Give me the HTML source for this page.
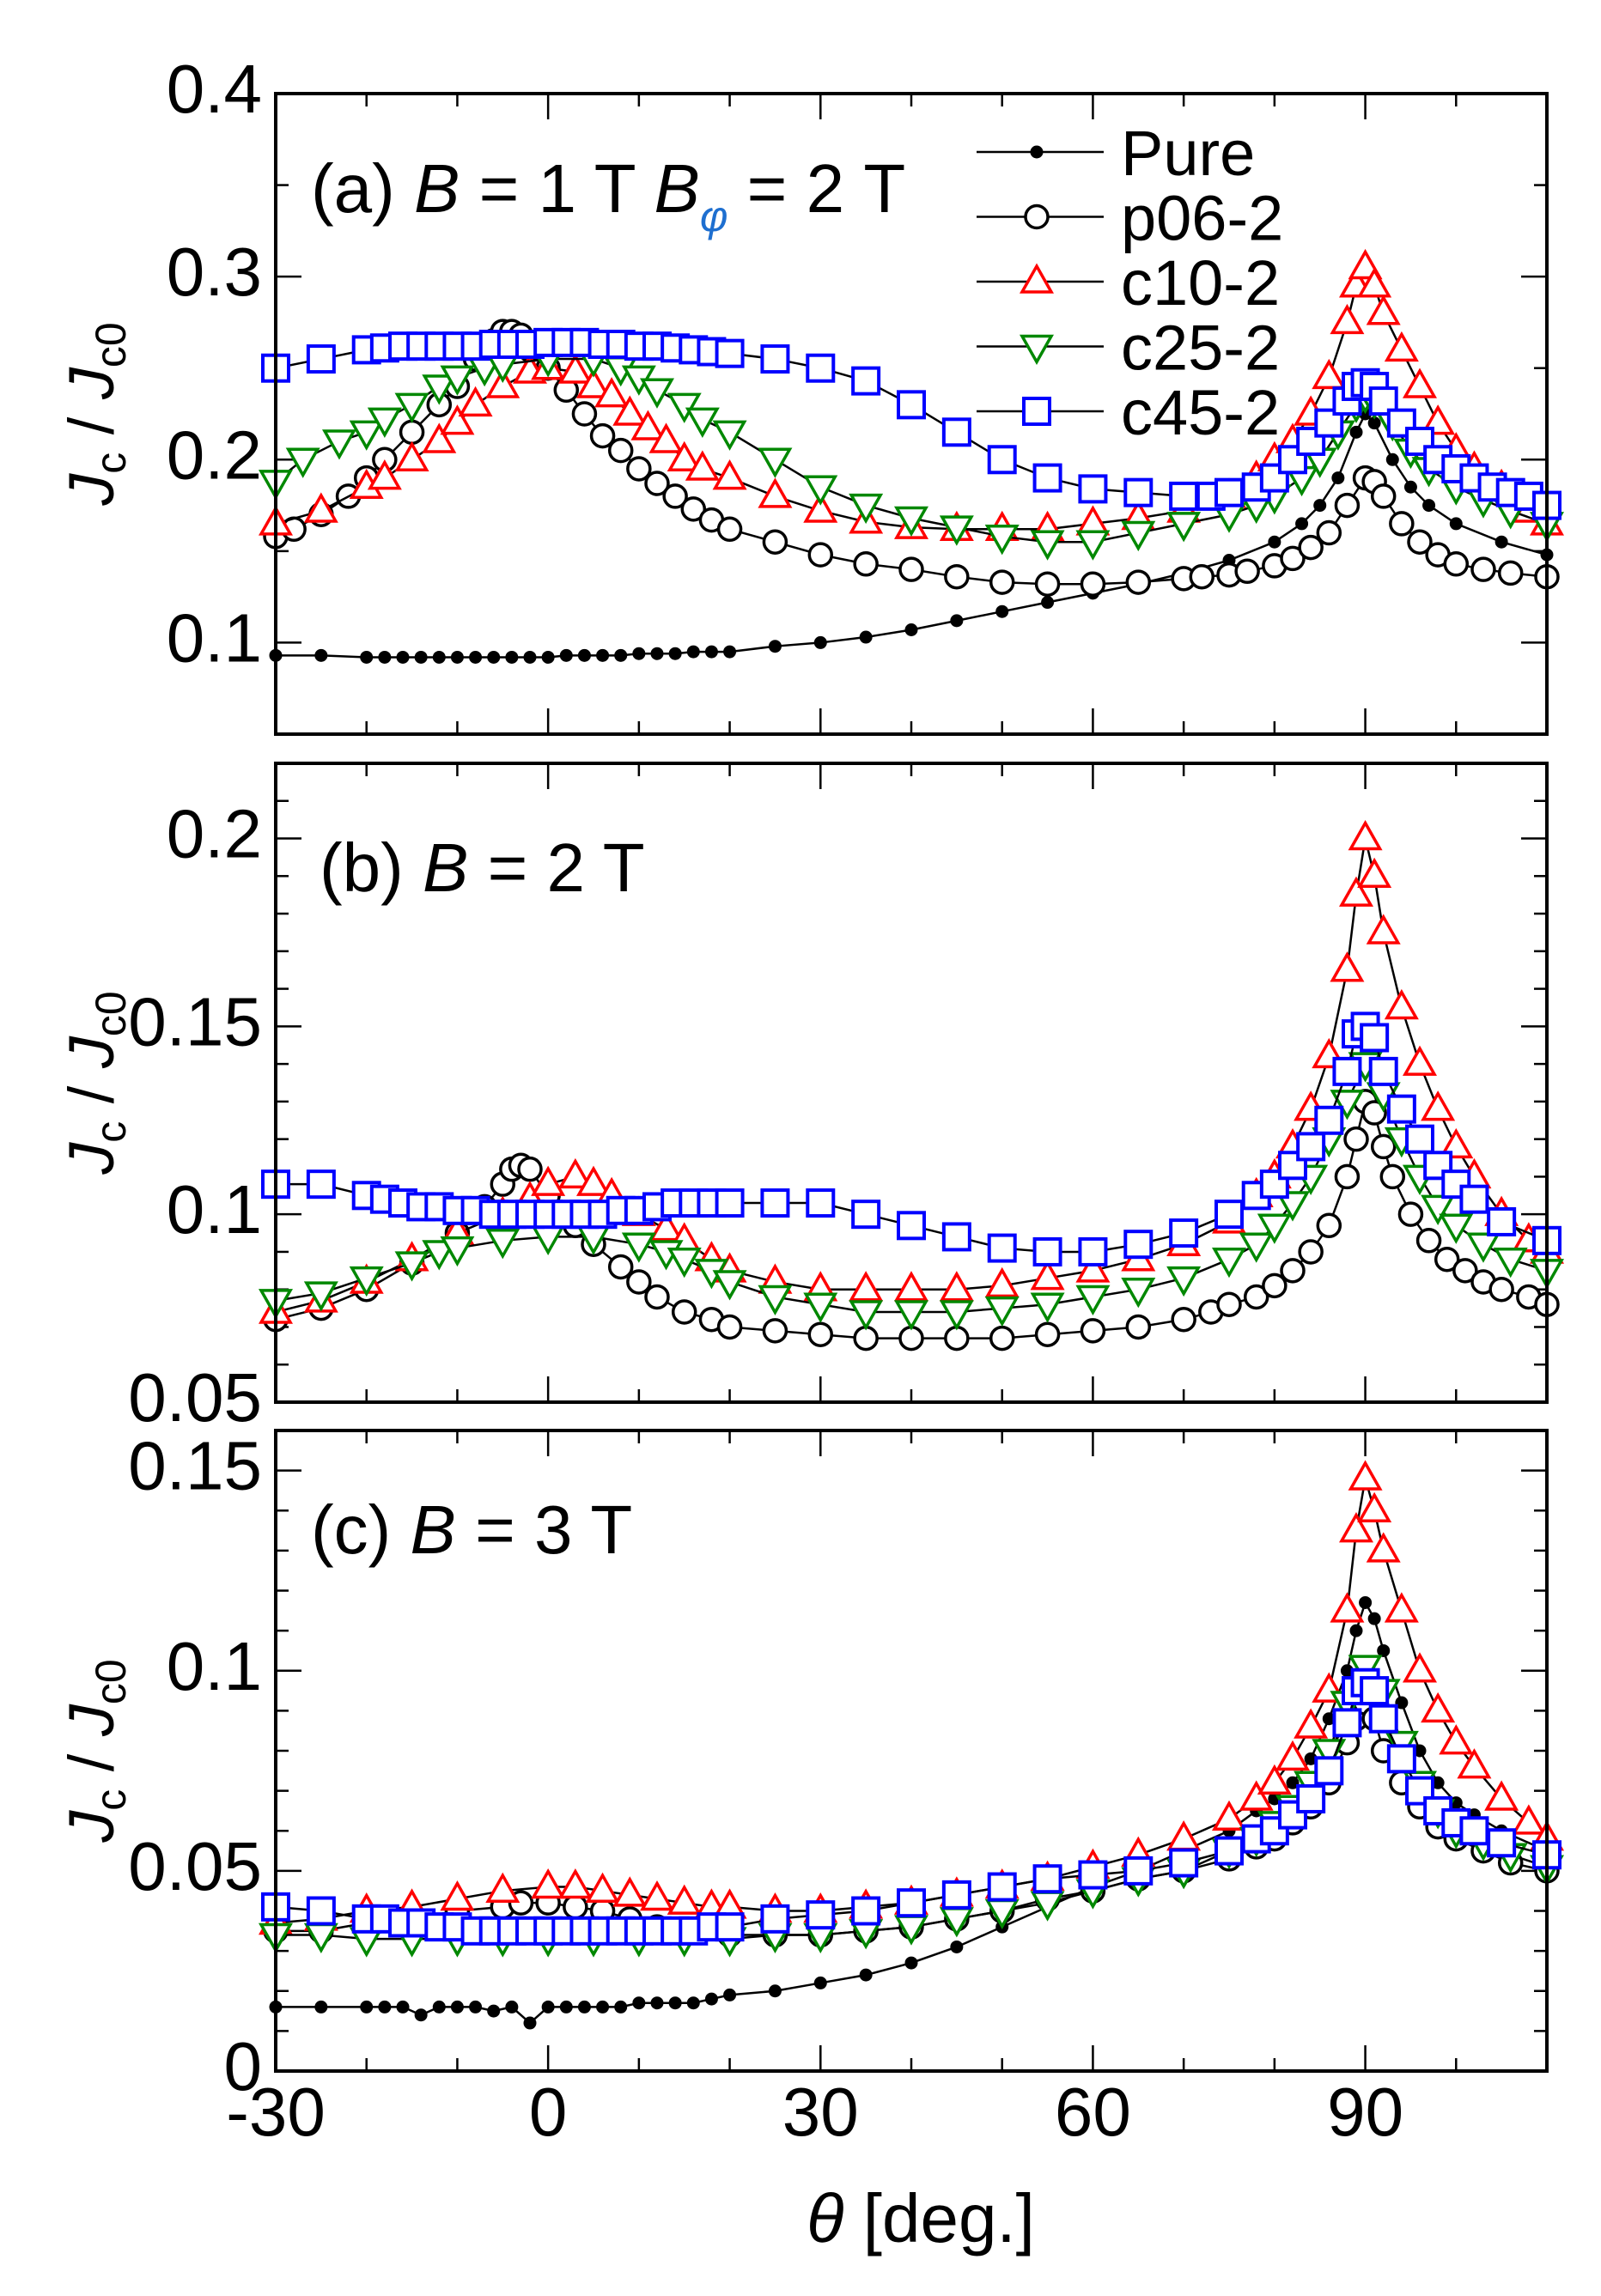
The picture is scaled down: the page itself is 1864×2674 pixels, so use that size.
<!DOCTYPE html>
<html><head><meta charset="utf-8"><style>
html,body{margin:0;padding:0;background:#fff}
svg{display:block}
text{font-family:"Liberation Sans",Arial,sans-serif;fill:#000}
</style></head><body>
<svg id="chart" width="1864" height="2674" viewBox="0 0 1864 2674" xmlns="http://www.w3.org/2000/svg"></svg>
<script>
// ---------- DATA ----------
// Panel (a) B = 1 T
const aPureX=[-30,-25,-20,-18,-16,-14,-12,-10,-8,-6,-4,-2,0,2,4,6,8,10,12,14,16,18,20,25,30,35,40,45,50,55,60,65,70,75,80,83,85,87,89,90,91,93,95,97,100,105,110];
const aPureY=[0.093,0.093,0.092,0.092,0.092,0.092,0.092,0.092,0.092,0.092,0.092,0.092,0.092,0.093,0.093,0.093,0.093,0.094,0.094,0.094,0.095,0.095,0.095,0.098,0.1,0.103,0.107,0.112,0.117,0.122,0.127,0.132,0.138,0.145,0.155,0.165,0.175,0.19,0.215,0.225,0.22,0.2,0.185,0.175,0.165,0.155,0.148];
const aP06X=[-30,-28,-25,-22,-20,-18,-15,-12,-10,-8,-6,-5,-4,-3,-2,0,2,4,6,8,10,12,14,16,18,20,25,30,35,40,45,50,55,60,65,70,72,75,77,80,82,84,86,88,90,91,92,94,96,98,100,103,106,110];
const aP06Y=[0.158,0.162,0.17,0.18,0.19,0.2,0.215,0.23,0.24,0.255,0.265,0.27,0.27,0.268,0.26,0.25,0.238,0.225,0.213,0.205,0.195,0.187,0.18,0.173,0.167,0.162,0.155,0.148,0.143,0.14,0.136,0.133,0.132,0.132,0.133,0.135,0.136,0.137,0.139,0.142,0.146,0.152,0.16,0.175,0.19,0.188,0.18,0.165,0.155,0.148,0.143,0.14,0.138,0.136];
const aC10X=[-30,-25,-20,-18,-15,-12,-10,-8,-5,-2,0,3,5,7,9,11,13,15,17,20,25,30,35,40,45,50,55,60,65,70,75,78,80,82,84,86,88,89,90,91,92,94,96,98,100,102,105,108,110];
const aC10Y=[0.165,0.172,0.185,0.19,0.2,0.21,0.22,0.23,0.24,0.248,0.25,0.248,0.24,0.235,0.225,0.217,0.21,0.2,0.195,0.19,0.18,0.172,0.166,0.163,0.162,0.162,0.162,0.165,0.168,0.172,0.18,0.19,0.2,0.21,0.225,0.245,0.275,0.295,0.305,0.295,0.28,0.26,0.24,0.22,0.205,0.195,0.185,0.172,0.165];
const aC25X=[-30,-27,-23,-20,-18,-15,-12,-10,-7,-5,0,5,8,10,12,15,17,20,25,30,35,40,45,50,55,60,65,70,75,78,80,83,85,87,89,90,91,93,95,97,100,103,106,110];
const aC25Y=[0.188,0.2,0.21,0.215,0.222,0.23,0.24,0.245,0.25,0.252,0.255,0.255,0.25,0.245,0.238,0.23,0.222,0.215,0.2,0.185,0.175,0.168,0.163,0.158,0.155,0.155,0.16,0.165,0.17,0.175,0.18,0.19,0.2,0.215,0.23,0.235,0.232,0.22,0.205,0.195,0.185,0.178,0.172,0.165];
const aC45X=[-30,-25,-20,-18,-16,-14,-12,-10,-8,-6,-4,-2,0,2,4,6,8,10,12,14,16,18,20,25,30,35,40,45,50,55,60,65,70,73,75,78,80,82,84,86,88,89,90,91,92,94,96,98,100,102,104,106,108,110];
const aC45Y=[0.25,0.255,0.26,0.261,0.262,0.262,0.262,0.262,0.262,0.263,0.263,0.263,0.264,0.264,0.264,0.263,0.263,0.262,0.262,0.261,0.26,0.259,0.258,0.255,0.25,0.243,0.23,0.215,0.2,0.19,0.184,0.182,0.18,0.18,0.182,0.185,0.19,0.2,0.21,0.22,0.232,0.24,0.242,0.24,0.232,0.22,0.21,0.2,0.195,0.19,0.185,0.182,0.18,0.175];
// Panel (b) B = 2 T
const bP06X=[-30,-25,-20,-15,-10,-7,-5,-4,-3,-2,0,3,5,8,10,12,15,18,20,25,30,35,40,45,50,55,60,65,70,73,75,78,80,82,84,86,88,89,90,91,92,93,95,97,99,101,103,105,108,110];
const bP06Y=[0.072,0.075,0.08,0.087,0.095,0.102,0.108,0.112,0.113,0.112,0.105,0.097,0.092,0.086,0.082,0.078,0.074,0.072,0.07,0.069,0.068,0.067,0.067,0.067,0.067,0.068,0.069,0.07,0.072,0.074,0.076,0.078,0.081,0.085,0.09,0.097,0.11,0.12,0.13,0.127,0.118,0.11,0.1,0.093,0.088,0.085,0.082,0.08,0.078,0.076];
const bC10X=[-30,-25,-20,-15,-10,-5,-2,0,3,5,7,10,13,15,18,20,25,30,35,40,45,50,55,60,65,70,75,78,80,82,84,86,88,89,90,91,92,94,96,98,100,102,105,108,110];
const bC10Y=[0.074,0.077,0.082,0.088,0.095,0.1,0.104,0.108,0.11,0.108,0.105,0.1,0.096,0.093,0.088,0.085,0.082,0.08,0.08,0.08,0.08,0.081,0.083,0.085,0.088,0.092,0.098,0.105,0.11,0.118,0.128,0.142,0.165,0.185,0.2,0.19,0.175,0.155,0.14,0.128,0.118,0.11,0.1,0.093,0.09];
const bC25X=[-30,-25,-20,-15,-12,-10,-5,0,5,10,13,15,18,20,25,30,35,40,45,50,55,60,65,70,75,78,80,82,84,86,88,90,92,94,96,98,100,103,106,110];
const bC25Y=[0.077,0.079,0.083,0.087,0.09,0.091,0.093,0.094,0.094,0.092,0.09,0.088,0.085,0.082,0.078,0.076,0.074,0.074,0.074,0.075,0.076,0.078,0.08,0.083,0.088,0.092,0.097,0.103,0.11,0.12,0.13,0.14,0.132,0.12,0.11,0.102,0.097,0.092,0.088,0.085];
const bC45X=[-30,-25,-20,-18,-16,-14,-12,-10,-8,-6,-4,-2,0,2,4,6,8,10,12,14,16,18,20,25,30,35,40,45,50,55,60,65,70,75,78,80,82,84,86,88,89,90,91,92,94,96,98,100,102,105,110];
const bC45Y=[0.108,0.108,0.105,0.104,0.103,0.102,0.102,0.101,0.101,0.1,0.1,0.1,0.1,0.1,0.1,0.1,0.101,0.101,0.102,0.103,0.103,0.103,0.103,0.103,0.103,0.1,0.097,0.094,0.091,0.09,0.09,0.092,0.095,0.1,0.105,0.108,0.113,0.118,0.125,0.138,0.148,0.15,0.147,0.138,0.128,0.12,0.113,0.108,0.104,0.098,0.093];
// Panel (c) B = 3 T
const cPureX=[-30,-25,-20,-18,-16,-14,-12,-10,-8,-6,-4,-2,0,2,4,6,8,10,12,14,16,18,20,25,30,35,40,45,50,55,60,65,70,75,78,80,82,84,86,88,89,90,91,92,94,96,98,100,102,105,110];
const cPureY=[0.016,0.016,0.016,0.016,0.016,0.014,0.016,0.016,0.016,0.015,0.016,0.012,0.016,0.016,0.016,0.016,0.016,0.017,0.017,0.017,0.017,0.018,0.019,0.02,0.022,0.024,0.027,0.031,0.036,0.041,0.046,0.05,0.055,0.06,0.065,0.068,0.072,0.078,0.088,0.1,0.11,0.117,0.113,0.105,0.092,0.08,0.072,0.067,0.064,0.06,0.055];
const cP06X=[-30,-25,-20,-15,-10,-5,-3,0,3,6,9,12,15,20,25,30,35,40,45,50,55,60,65,70,75,78,80,82,84,86,88,89,90,91,92,94,96,98,100,103,106,110];
const cP06Y=[0.035,0.035,0.037,0.038,0.04,0.041,0.042,0.042,0.041,0.04,0.038,0.036,0.035,0.034,0.034,0.034,0.035,0.036,0.038,0.04,0.043,0.045,0.048,0.05,0.053,0.056,0.058,0.062,0.066,0.072,0.082,0.088,0.092,0.088,0.08,0.072,0.066,0.061,0.058,0.055,0.052,0.05];
const cC10X=[-30,-25,-20,-15,-10,-5,0,3,6,9,12,15,18,20,25,30,35,40,45,50,55,60,65,70,75,78,80,82,84,86,88,89,90,91,92,94,96,98,100,102,105,108,110];
const cC10Y=[0.037,0.038,0.04,0.041,0.043,0.045,0.046,0.046,0.045,0.044,0.043,0.042,0.041,0.041,0.04,0.04,0.041,0.042,0.044,0.046,0.048,0.051,0.054,0.058,0.063,0.068,0.072,0.078,0.086,0.095,0.115,0.135,0.148,0.14,0.13,0.115,0.1,0.09,0.082,0.076,0.068,0.062,0.058];
const cC25X=[-30,-25,-20,-15,-10,-5,0,5,10,15,20,25,30,35,40,45,50,55,60,65,70,75,78,80,82,84,86,88,90,92,94,96,98,100,103,106,110];
const cC25Y=[0.034,0.034,0.033,0.033,0.033,0.033,0.033,0.033,0.033,0.033,0.033,0.034,0.034,0.035,0.036,0.038,0.04,0.042,0.045,0.048,0.05,0.055,0.058,0.062,0.066,0.072,0.08,0.092,0.101,0.095,0.082,0.072,0.065,0.06,0.057,0.054,0.051];
const cC45X=[-30,-25,-20,-18,-16,-14,-12,-10,-8,-6,-4,-2,0,2,4,6,8,10,12,14,16,18,20,25,30,35,40,45,50,55,60,65,70,75,78,80,82,84,86,88,89,90,91,92,94,96,98,100,102,105,110];
const cC45Y=[0.041,0.04,0.038,0.038,0.037,0.037,0.036,0.036,0.035,0.035,0.035,0.035,0.035,0.035,0.035,0.035,0.035,0.035,0.035,0.035,0.035,0.036,0.036,0.038,0.039,0.04,0.042,0.044,0.046,0.048,0.049,0.05,0.052,0.055,0.058,0.06,0.064,0.068,0.075,0.087,0.095,0.097,0.095,0.088,0.078,0.07,0.065,0.062,0.06,0.057,0.054];
const xTicks=[-30,0,30,60,90];
const aYTicks=[0.1,0.2,0.3,0.4];
const bYTicks=[0.05,0.1,0.15,0.2];
const cYTicks=[0,0.05,0.1,0.15];
const legendNames=["Pure","p06-2","c10-2","c25-2","c45-2"];

// ---------- DRAW ----------
const NS="http://www.w3.org/2000/svg";
const svg=document.getElementById('chart');
function mk(tag,attrs,parent){const e=document.createElementNS(NS,tag);for(const k in attrs)e.setAttribute(k,attrs[k]);(parent||svg).appendChild(e);return e;}
const X0=321,X1=1801,XMIN=-30,XMAX=110;
function xs(v){return X0+(v-XMIN)/(XMAX-XMIN)*(X1-X0);}
const panels=[
 {id:'a',top:109,bot:855,ymin:0.05,ymax:0.4,minor:0.05,ticks:aYTicks,labels:["0.1","0.2","0.3","0.4"],
  series:[[aPureX,aPureY,'pure'],[aP06X,aP06Y,'p06'],[aC10X,aC10Y,'c10'],[aC25X,aC25Y,'c25'],[aC45X,aC45Y,'c45']]},
 {id:'b',top:889,bot:1633,ymin:0.05,ymax:0.22,minor:0.01,ticks:bYTicks,labels:["0.05","0.1","0.15","0.2"],
  series:[[bP06X,bP06Y,'p06'],[bC10X,bC10Y,'c10'],[bC25X,bC25Y,'c25'],[bC45X,bC45Y,'c45']]},
 {id:'c',top:1666,bot:2412,ymin:0,ymax:0.16,minor:0.01,ticks:cYTicks,labels:["0","0.05","0.1","0.15"],
  series:[[cPureX,cPureY,'pure'],[cP06X,cP06Y,'p06'],[cC10X,cC10Y,'c10'],[cC25X,cC25Y,'c25'],[cC45X,cC45Y,'c45']]}
];
function marker(g,kind,x,y){
 let e;
 if(kind==='pure'){e=mk('circle',{cx:x,cy:y,r:7.5,fill:'#000'},g);}
 else if(kind==='p06'){e=mk('circle',{cx:x,cy:y,r:13,fill:'#fff',stroke:'#000','stroke-width':3.5},g);}
 else if(kind==='c10'){e=mk('polygon',{points:`${x},${y-18} ${x+17},${y+12} ${x-17},${y+12}`,fill:'#fff',stroke:'#f00','stroke-width':3.5},g);}
 else if(kind==='c25'){e=mk('polygon',{points:`${x},${y+18} ${x+17},${y-12} ${x-17},${y-12}`,fill:'#fff',stroke:'#080','stroke-width':3.5},g);}
 else {e=mk('rect',{x:x-15,y:y-15,width:30,height:30,fill:'#fff',stroke:'#00f','stroke-width':4},g);}
 return e;
}
const nameMap={pure:'pure',p06:'p06-2',c10:'c10-2',c25:'c25-2',c45:'c45-2'};
panels.forEach(p=>{
 const ys=v=>p.bot-(v-p.ymin)/(p.ymax-p.ymin)*(p.bot-p.top);
 const g=mk('g',{});
 
 
 for(let t=-30;t<=110;t+=10){
  const major=(t%30===0);const L=major?30:15;
  mk('line',{x1:xs(t),x2:xs(t),y1:p.bot,y2:p.bot-L,stroke:'#000','stroke-width':2.5},g);
  mk('line',{x1:xs(t),x2:xs(t),y1:p.top,y2:p.top+L,stroke:'#000','stroke-width':2.5},g);
 }
 const n=Math.round((p.ymax-p.ymin)/p.minor);
 for(let i=0;i<=n;i++){
  const v=p.ymin+i*p.minor;const y=ys(v);
  const major=p.ticks.some(t=>Math.abs(t-v)<1e-6);const L=major?30:15;
  mk('line',{x1:X0,x2:X0+L,y1:y,y2:y,stroke:'#000','stroke-width':2.5},g);
  mk('line',{x1:X1,x2:X1-L,y1:y,y2:y,stroke:'#000','stroke-width':2.5},g);
 }
 p.ticks.forEach((t,i)=>{
  const tx=mk('text',{x:305,y:ys(t)+22,'font-size':80,'text-anchor':'end'},g);
  tx.textContent=p.labels[i];
  
  
 });
 const cy=(p.top+p.bot)/2;
 const yt=mk('text',{x:0,y:0,'font-size':74,'text-anchor':'middle',transform:`translate(132,${cy}) rotate(-90)`},g);
 yt.innerHTML='<tspan font-style="italic">J</tspan><tspan font-size="50" dy="14">c</tspan><tspan dy="-14"> / </tspan><tspan font-style="italic">J</tspan><tspan font-size="50" dy="14">c0</tspan>';
 
 
 p.series.forEach(s=>{
  const sg=mk('g',{},g);
  
  
  const pts=s[0].map((x,i)=>xs(x)+','+ys(s[1][i])).join(' ');
  mk('polyline',{points:pts,fill:'none',stroke:'#000','stroke-width':2.5},sg);
  s[0].forEach((x,i)=>{
   const m=marker(sg,s[2],xs(x),ys(s[1][i]));
   
   
  });
 });
 const fr=mk('rect',{x:X0,y:p.top,width:X1-X0,height:p.bot-p.top,fill:'none',stroke:'#000','stroke-width':4},g);
 
 
});
function ann(html,x,y,name){const t=mk('text',{x:x,y:y,'font-size':80});t.innerHTML=html;}
ann('(a) <tspan font-style="italic">B</tspan> = 1 T <tspan font-style="italic">B</tspan><tspan font-style="italic" font-size="50" fill="#1e6fd0" dy="22">φ</tspan><tspan dy="-22"> = 2 T</tspan>',362,247,'panel-a-annotation');
ann('(b) <tspan font-style="italic">B</tspan> = 2 T',372,1038,'panel-b-annotation');
ann('(c) <tspan font-style="italic">B</tspan> = 3 T',362,1809,'panel-c-annotation');
const lg=mk('g',{});


const kinds=['pure','p06','c10','c25','c45'];
legendNames.forEach((nm,i)=>{
 const y=177+i*75.5;
 const eg=mk('g',{},lg);
 
 
 mk('line',{x1:1137,x2:1285,y1:y,y2:y,stroke:'#000','stroke-width':2.5},eg);
 marker(eg,kinds[i],1207,y);
 const t=mk('text',{x:1305,y:y+27,'font-size':74},eg);t.textContent=nm;
});
xTicks.forEach(t=>{
 const tx=mk('text',{x:xs(t),y:2487,'font-size':80,'text-anchor':'middle'});
 tx.textContent=String(t);
 
 
});
const xt=mk('text',{x:1072,y:2611,'font-size':80,'text-anchor':'middle'});
xt.innerHTML='<tspan font-style="italic">θ</tspan> [deg.]';


</script>
</body></html>
